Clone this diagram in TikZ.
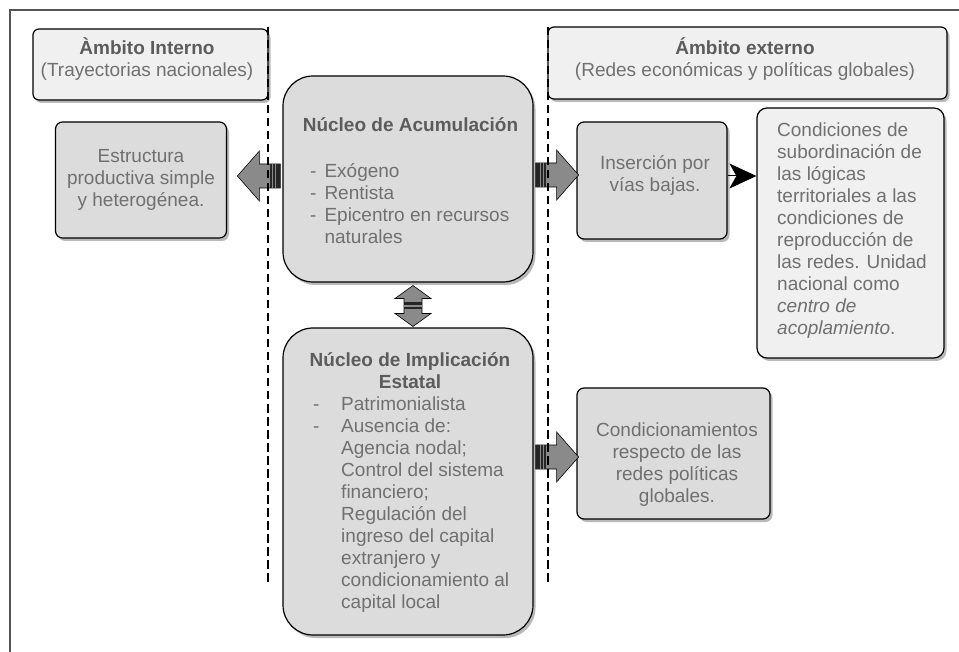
\documentclass[tikz,border=0pt]{standalone}
\usepackage{fontspec}
\setmainfont{Liberation Sans}
\usetikzlibrary{shadows,arrows.meta,calc}
\definecolor{txt}{RGB}{112,112,112}
\definecolor{ttl}{RGB}{92,92,92}
\definecolor{boxfill}{RGB}{220,220,221}
\definecolor{lightfill}{RGB}{240,240,240}
\definecolor{arrowfill}{RGB}{138,138,138}
\definecolor{framecol}{RGB}{85,85,85}
\tikzset{
  every node/.style={font=\fontsize{19}{22}\selectfont, text=txt, inner sep=0pt},
  box/.style={draw=black, line width=1.2pt, fill=boxfill,
    drop shadow={shadow xshift=2.5pt, shadow yshift=-3pt, fill=black!50, opacity=0.55}},
  lightbox/.style={box, fill=lightfill},
  dashline/.style={black, line width=2pt, dash pattern=on 8.5pt off 4.5pt},
  fatarrow/.pic={
    \path[draw=black, line width=0.6pt, fill=arrowfill]
      (0,-12) -- (21,-12) -- (21,-25) -- (43,0) -- (21,25) -- (21,12) -- (0,12) -- cycle;
    \fill[black!85] (0,-12) rectangle (10,12);
    \draw[arrowfill, line width=1.1pt] (4.5,-12) -- (4.5,12) (7.8,-12) -- (7.8,12);
  },
  dblarrow/.pic={
    \path[draw=black, line width=0.6pt, fill=arrowfill]
      (0,-20.5) -- (18,-7.5) -- (9,-7.5) -- (9,7.5) -- (18,7.5) -- (0,20.5)
      -- (-18,7.5) -- (-9,7.5) -- (-9,-7.5) -- (-18,-7.5) -- cycle;
    \fill[black!85] (-9,-3.5) rectangle (9,3.5);
    \draw[arrowfill, line width=1.1pt] (-9,0) -- (9,0);
  }
}
\begin{document}
\begin{tikzpicture}[x=1pt,y=-1pt]
\useasboundingbox (0,0) rectangle (959,652);
% outer frame
\draw[framecol, line width=1.5pt] (959,10) -- (10,10) -- (10,652);

% boxes
\node[lightbox, rounded corners=6pt, minimum width=235pt, minimum height=71pt] (hdrL) at (150.5,64.5) {};
\node[lightbox, rounded corners=6pt, minimum width=399pt, minimum height=72pt] (hdrR) at (747.5,63) {};
\node[box, rounded corners=7pt, minimum width=171pt, minimum height=116pt] (estr) at (141,180) {};
\node[box, rounded corners=30pt, minimum width=250pt, minimum height=206pt] (nucA) at (408,179) {};
\node[box, rounded corners=7pt, minimum width=150pt, minimum height=117pt] (ins) at (652,180.5) {};
\node[lightbox, rounded corners=10pt, minimum width=187pt, minimum height=250pt] (cond) at (850.5,233) {};
\node[box, rounded corners=30pt, minimum width=250pt, minimum height=307pt] (nucI) at (408,481.5) {};
\node[box, rounded corners=7pt, minimum width=193pt, minimum height=131pt] (cred) at (673.5,453.5) {};

% texts
\node[align=center] (hdrLt) at (147,59) {\textcolor{ttl}{\textbf{Àmbito Interno}}\\(Trayectorias nacionales)};
\node[align=center] (hdrRt) at (745,59) {\textcolor{ttl}{\textbf{Ámbito externo}}\\(Redes económicas y políticas globales)};
\node[align=center] (estrt) at (141,179.5) {Estructura\\productiva simple\\y heterogénea.};
\node[text=ttl, font=\fontsize{19}{22}\selectfont\bfseries] (nucAt) at (410.5,125) {Núcleo de Acumulación};
\node[anchor=west] (nucAl) at (310,206) {\begin{tabular}{@{}l@{\hspace{8pt}}l@{}}-&Exógeno\\-&Rentista\\-&Epicentro en recursos\\&naturales\end{tabular}};
\node[align=center] (inst) at (655,175) {Inserción por\\vías bajas.};
\node[anchor=west, align=left] (condt) at (777,230.5) {Condiciones de\\subordinación de\\las lógicas\\territoriales a las\\condiciones de\\reproducción de\\las redes. Unidad\\nacional como\\\textit{centro de}\\\textit{acoplamiento}.};
\node[align=center, text=ttl, font=\fontsize{19}{22}\selectfont\bfseries] (nucIt) at (410,371) {Núcleo de Implicación\\Estatal};
\node[anchor=west] (nucIl) at (313,505) {\begin{tabular}{@{}l@{\hspace{21.7pt}}l@{}}-&Patrimonialista\\-&Ausencia de:\\&Agencia nodal;\\&Control del sistema\\&financiero;\\&Regulación del\\&ingreso del capital\\&extranjero y\\&condicionamiento al\\&capital local\end{tabular}};
\node[align=center] (credt) at (677,465) {Condicionamientos\\respecto de las\\redes políticas\\globales.};

% fat arrows
\pic[xscale=-1] at ($(nucA.west)+(-2,-3)$) {fatarrow};
\pic at ($(nucA.east)+(2,-4)$) {fatarrow};
\pic at ($(nucI.east)+(2,-24.5)$) {fatarrow};
\pic at ($(nucA.south)!0.5!(nucI.north)+(5,1)$) {dblarrow};

% dashed separators
\draw[dashline] (268,27) -- (268,583);
\draw[dashline] (548,27) -- (548,583);

% black arrow
\coordinate (a1) at ($(ins.east)+(0,-4.5)$);
\draw[black, line width=1pt, -{Stealth[length=27pt,width=25pt,inset=7pt]}] (a1) -- (a1 -| cond.west);
\end{tikzpicture}
\end{document}
